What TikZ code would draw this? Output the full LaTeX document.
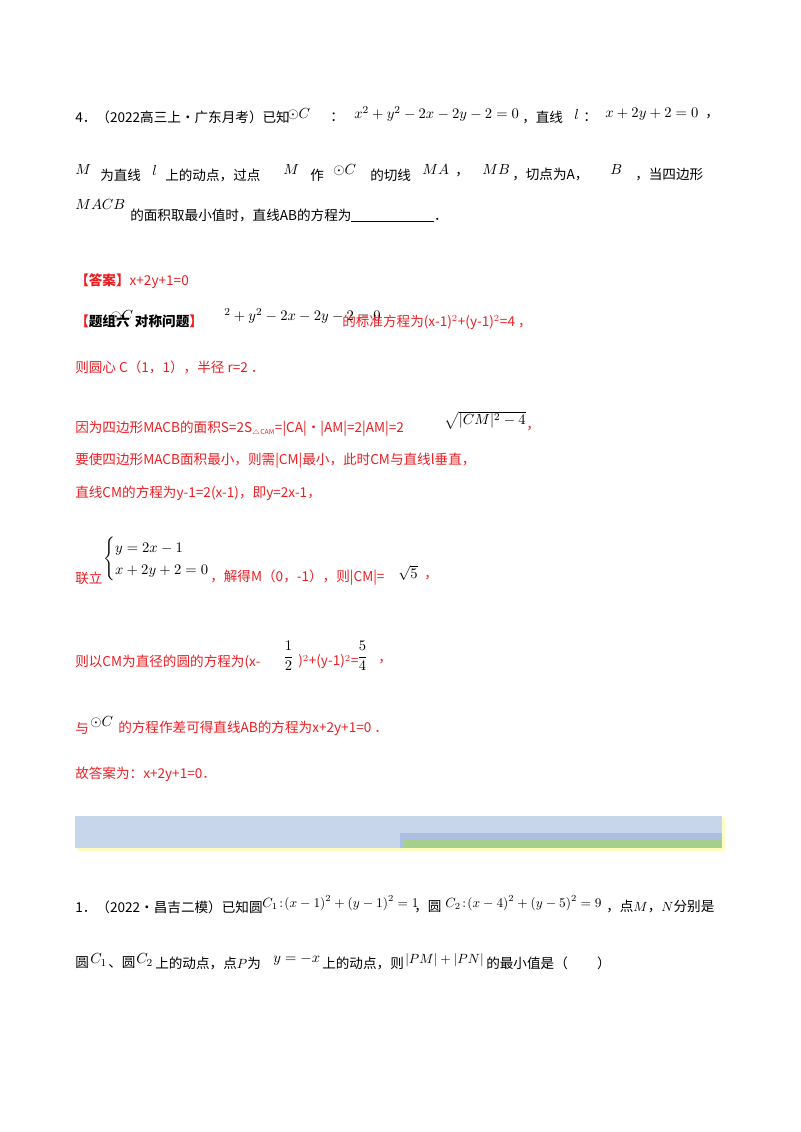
\documentclass[tikz,border=0pt]{standalone}
\usepackage{fontspec}
\setmainfont{Noto Sans CJK SC}
\usepackage{amsmath}
\definecolor{ans}{RGB}{235,30,35}
\definecolor{bandblue}{RGB}{200,214,236}
\definecolor{bandmid}{RGB}{172,190,228}
\definecolor{bandgreen}{RGB}{166,206,140}
\begin{document}
\begin{tikzpicture}[x=0.75pt,y=-0.75pt,
  t/.style={anchor=west,inner sep=0pt,font=\fontsize{10.2}{12}\selectfont},
  m/.style={anchor=west,inner sep=0pt,font=\fontsize{11}{14}\selectfont},
  ms/.style={anchor=west,inner sep=0pt,font=\fontsize{10}{12}\selectfont},
  r/.style={t,text=ans}]
\useasboundingbox (0,0) rectangle (800,1132);
% problem 4
\node[t] (a1) at (75,117) {4．（2022高三上·广东月考）已知};
\node[m] (a2) at (287,114) {$\odot C$};
\node[t] (a3) at (330,117) {：};
\node[m] (a4) at (354,114) {$x^2+y^2-2x-2y-2=0$};
\node[t] (a5) at (522,117) {，直线};
\node[m] (a6) at (574,114) {$l$};
\node[t] (a7) at (583,117) {：};
\node[m] (a8) at (605,114) {$x+2y+2=0$};
\node[t] (a9) at (705,117) {，};
\node[m] (b1) at (75,170) {$M$};
\node[t] (b2) at (100,175) {为直线};
\node[m] (b3) at (152,170) {$l$};
\node[t] (b4) at (165,175) {上的动点，过点};
\node[m] (b5) at (283,170) {$M$};
\node[t] (b6) at (310,175) {作};
\node[m] (b7) at (333,170) {$\odot C$};
\node[t] (b8) at (370,175) {的切线};
\node[m] (b9) at (422,170) {$MA$};
\node[t] (b10) at (455,175) {，};
\node[m] (b11) at (482,170) {$MB$};
\node[t] (b12) at (512,175) {，切点为A，};
\node[m] (b13) at (610,170) {$B$};
\node[t] (b14) at (635,175) {，当四边形};
\node[m] (c1) at (75,205) {$MACB$};
\node[t] (c2) at (130,215) {的面积取最小值时，直线AB的方程为\rule[-1pt]{62pt}{0.6pt}．};
% answer
\node[r] (d1) at (75,281) {\textbf{【答案】}x+2y+1=0};
\node[m] (e0) at (110,316) {$\odot C$};
\node[t] (e1) at (75,321) {\color{ans}\textbf{【}\color{black}\textbf{题组六\hspace{4pt}对称问题}\color{ans}\textbf{】}};
\node[m] (e2) at (224,316) {${}^2+y^2-2x-2y-2=0$};
\node[r] (e3) at (342,322) {的标准方程为(x-1)$^2$+(y-1)$^2$=4 ，};
\node[r] (f1) at (75,367) {则圆心 C（1，1），半径 r=2 ．};
\node[r] (g1) at (75,429) {因为四边形MACB的面积S=2S$_{\scriptscriptstyle\triangle\mathrm{CAM}}$=|CA|·|AM|=2|AM|=2};
\node[m] (g2) at (444,420) {$\sqrt{|CM|^2-4}$};
\node[r] (g3) at (526,429) {，};
\node[r] (h1) at (75,461) {要使四边形MACB面积最小，则需|CM|最小，此时CM与直线l垂直，};
\node[r] (i1) at (75,493) {直线CM的方程为y-1=2(x-1)，即y=2x-1，};
\node[r] (j1) at (75,578) {联立};
\node[m] (j2) at (103,559) {$\begin{cases}y=2x-1\\x+2y+2=0\end{cases}$};
\node[r] (j3) at (210,578) {，解得M（0，-1），则|CM|=};
\node[m] (j4) at (398,573) {$\sqrt{5}$};
\node[r] (j5) at (424,578) {，};
\node[r] (k1) at (75,662) {则以CM为直径的圆的方程为(x-};
\node[m] (k2) at (283,656) {$\dfrac{1}{2}$};
\node[r] (k3) at (298,662) {)$^2$+(y-1)$^2$=};
\node[m] (k4) at (357,656) {$\dfrac{5}{4}$};
\node[r] (k5) at (378,662) {，};
\node[r] (l1) at (75,728) {与};
\node[m] (l2) at (90,722) {$\odot C$};
\node[r] (l3) at (118,728) {的方程作差可得直线AB的方程为x+2y+1=0 ．};
\node[r] (m1) at (75,774) {故答案为：x+2y+1=0．};
% band
\fill[yellow!40!white,opacity=0.6] (77,818) rectangle (725,851);
\fill[bandblue] (75,816) rectangle (722,848);
\fill[bandmid] (400,833) rectangle (722,848);
\fill[bandgreen] (404,840) rectangle (722,848);
% problem 1
\node[t] (n1) at (75,907) {1．（2022·昌吉二模）已知圆};
\node[ms] (n2) at (262,903) {$C_1\!:\!\left(x-1\right)^2+\left(y-1\right)^2=1$};
\node[t] (n3) at (414,907) {，圆};
\node[ms] (n4) at (445,903) {$C_2\!:\!\left(x-4\right)^2+\left(y-5\right)^2=9$};
\node[t] (n5) at (606,907) {，点$M$，$N$分别是};
\node[t] (o1) at (75,963) {圆};
\node[m] (o2) at (90,960) {$C_1$};
\node[t] (o3) at (108,963) {、圆};
\node[m] (o4) at (136,960) {$C_2$};
\node[t] (o5) at (155,963) {上的动点，点$P$为};
\node[m] (o6) at (273,960) {$y=-x$};
\node[t] (o7) at (322,963) {上的动点，则};
\node[ms] (o8) at (405,960) {$\left|PM\right|+\left|PN\right|$};
\node[t] (o9) at (486,963) {的最小值是（\hspace{22pt}）};
\end{tikzpicture}
\end{document}
